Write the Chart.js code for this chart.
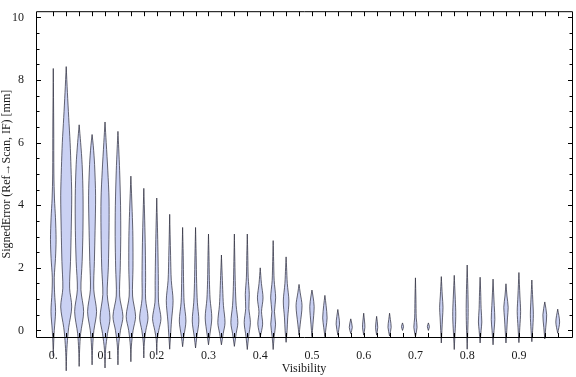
<!DOCTYPE html>
<html><head><meta charset="utf-8">
<script src="https://cdn.jsdelivr.net/npm/chart.js@4.4.0/dist/chart.umd.min.js"></script>
<style>html,body{margin:0;padding:0;background:#fff;}canvas{display:block;}</style>
</head><body>
<canvas id="c" width="576" height="377"></canvas>
<script>
// ---- data ----
const visibility = [0,0.025,0.05,0.075,0.1,0.125,0.15,0.175,0.2,0.225,0.25,0.275,0.3,0.325,0.35,0.375,0.4,0.425,0.45,0.475,0.5,0.525,0.55,0.575,0.6,0.625,0.65,0.675,0.7,0.725,0.75,0.775,0.8,0.825,0.85,0.875,0.9,0.925,0.95,0.975];
const xTickLabels = ["0.","0.1","0.2","0.3","0.4","0.5","0.6","0.7","0.8","0.9"];
const yTickValues = [0,2,4,6,8,10];
const violinLow = [-0.82,-1.29,-1.15,-1.1,-1.2,-1.1,-1.0,-0.88,-0.78,-0.6,-0.52,-0.56,-0.46,-0.46,-0.51,-0.61,-0.21,-0.61,-0.38,-0.15,-0.2,-0.2,-0.15,-0.1,-0.15,-0.15,-0.18,0.0,-0.2,0.0,-0.4,-0.61,-0.6,-0.4,-0.46,-0.4,-0.39,-0.36,-0.27,-0.09];
const violinHigh = [8.37,8.43,6.57,6.26,6.66,6.36,4.93,4.54,4.23,3.71,3.29,3.29,3.08,2.41,3.08,3.08,2.0,2.87,2.35,1.47,1.29,1.12,0.67,0.37,0.55,0.45,0.55,0.24,1.68,0.24,1.72,1.76,2.09,1.7,1.64,1.49,1.85,1.61,0.91,0.68];
// density profile knots: [error value, relative half-width]
const violinDensity = [
 [[-0.4,0.4],[0,1.0],[0.6,2.3],[1.2,1.3],[1.7,1.0],[2.3,2.2],[2.9,2.8],[3.6,2.2],[4.2,1.2],[5.0,0.6],[6.5,0.45]],
 [[-0.7,0.5],[-0.2,1.5],[0.1,2.5],[0.75,5.5],[1.35,3.4],[2.2,4.3],[3.2,5.0],[4.3,5.5],[5.2,4.8],[6.0,3.9],[6.8,2.5],[7.6,1.2]],
 [[-0.6,0.5],[-0.1,1.5],[0.6,4.5],[1.3,1.8],[2.2,3.0],[3.2,3.8],[4.3,3.9],[5.3,3.0],[6.0,1.5]],
 [[-0.5,0.6],[0,1.8],[0.6,4.5],[1.3,1.7],[2.2,2.3],[3.2,3.0],[4.3,3.5],[5.3,2.5],[5.9,1.2]],
 [[-0.6,0.6],[-0.1,2.5],[0.4,5.0],[1.15,2.2],[2.0,3.3],[3.2,4.0],[4.2,4.0],[5.1,2.8],[6.0,1.2]],
 [[-0.5,0.6],[0,2.5],[0.45,5.0],[1.1,1.7],[2.0,2.3],[3.0,2.8],[4.0,2.6],[5.1,1.7],[5.8,0.8]],
 [[-0.5,0.5],[0,2.2],[0.45,4.7],[1.1,1.7],[2.0,2.1],[3.0,2.0],[3.8,1.3]],
 [[-0.4,0.5],[0,2.0],[0.4,4.2],[1.0,1.8],[1.7,1.8],[2.6,1.5],[3.5,0.9]],
 [[-0.3,0.5],[0,2.0],[0.38,4.2],[0.9,1.8],[1.6,1.6],[2.5,1.2],[3.3,0.7]],
 [[-0.2,0.8],[0.3,1.8],[0.95,3.4],[1.6,1.6],[2.4,0.9]],
 [[-0.2,1.2],[0.3,3.3],[0.9,1.5],[1.5,1.0],[2.4,0.6]],
 [[-0.2,1.3],[0.3,3.3],[0.9,1.8],[1.5,1.1],[2.4,0.6]],
 [[-0.15,1.3],[0.4,3.3],[1.0,1.6],[1.6,0.9],[2.4,0.5]],
 [[-0.1,1.8],[0.25,3.6],[0.8,2.0],[1.3,1.3],[1.9,0.6]],
 [[-0.1,1.8],[0.25,3.5],[0.8,1.8],[1.4,1.0],[2.2,0.5]],
 [[-0.2,1.3],[0.25,3.1],[0.7,1.6],[1.15,2.0],[1.7,0.9],[2.4,0.5]],
 [[0.2,2.4],[0.6,1.3],[1.04,2.8],[1.5,1.2]],
 [[-0.2,1.0],[0.2,2.4],[0.6,1.3],[1.04,2.5],[1.6,1.0],[2.2,0.5]],
 [[0,1.0],[0.4,1.6],[0.94,2.8],[1.5,1.2],[2.0,0.5]],
 [[0.2,1.2],[0.79,3.0],[1.2,1.2]],
 [[0.2,1.0],[0.76,2.2],[1.1,1.0]],
 [[0.1,1.2],[0.4,2.2],[0.8,1.2]],
 [[0.2,1.7],[0.45,1.0]],
 [[0.1,1.5]],
 [[0.1,1.2],[0.3,0.8]],
 [[0.1,1.1]],
 [[0.1,1.6],[0.35,0.8]],
 [[0.12,1.0]],
 [[0.1,1.6],[0.4,0.8],[1.0,0.5]],
 [[0.12,1.0]],
 [[0,0.6],[0.4,1.2],[0.74,1.7],[1.1,1.0]],
 [[-0.2,0.6],[0.3,1.4],[0.6,1.5],[1.1,0.9]],
 [[0.2,0.8],[0.7,1.0],[1.3,0.7]],
 [[0,1.0],[0.27,1.7],[0.7,1.0],[1.2,0.6]],
 [[0,1.0],[0.35,1.8],[0.8,1.2],[1.2,0.6]],
 [[0,0.8],[0.4,1.5],[0.74,2.2],[1.1,1.0]],
 [[0.1,0.9],[0.6,1.7],[1.1,1.0]],
 [[0,0.8],[0.5,1.5],[1.0,0.9]],
 [[0.1,1.0],[0.5,1.9]],
 [[0.27,1.9]]
];

// ---- rendering ----
const densityToX = 0.025 / 12.94;
const FILL = '#cad1f3';
const FONT = "'Liberation Serif','Times New Roman',serif";

function violinPoints(i) {
  const v = visibility[i], lo = violinLow[i], hi = violinHigh[i], k = violinDensity[i];
  const pts = [{x: v, y: lo}];
  k.forEach(([y, w]) => pts.push({x: v + w * densityToX, y}));
  pts.push({x: v, y: hi}, {x: v, y: hi});
  for (let j = k.length - 1; j >= 0; j--) pts.push({x: v - k[j][1] * densityToX, y: k[j][0]});
  pts.push({x: v, y: lo}, {x: v, y: lo});
  return pts;
}

const datasets = visibility.map((v, i) => ({
  data: violinPoints(i),
  showLine: true, fill: false, clip: false,
  borderColor: 'rgba(40,40,55,0.7)', borderWidth: 1,
  tension: 0.3, pointRadius: 0, pointHoverRadius: 0
}));

const violinFill = {
  id: 'violinFill',
  beforeDatasetDraw(chart, args) {
    const line = args.meta.dataset;
    if (!line) return;
    const ctx = chart.ctx;
    line.updateControlPoints(chart.chartArea, 'x');
    ctx.save();
    ctx.beginPath();
    line.path(ctx);
    ctx.closePath();
    ctx.fillStyle = FILL;
    ctx.fill();
    ctx.restore();
  }
};

const frame = {
  id: 'frame',
  afterDatasetsDraw(chart) {
    const {ctx, chartArea: a, scales: {x, y}} = chart;
    ctx.save();
    ctx.strokeStyle = '#000';
    ctx.lineWidth = 1;
    const L = a.left + 0.5, R = a.right + 0.5, T = a.top + 0.5, B = a.bottom + 0.5;
    ctx.beginPath();
    ctx.rect(L, T, R - L, B - T);
    visibility.forEach(v => {
      const px = Math.round(x.getPixelForValue(v)) + 0.5;
      ctx.moveTo(px, B); ctx.lineTo(px, B - 4.5);
      ctx.moveTo(px, T); ctx.lineTo(px, T + 4.5);
    });
    for (let val = 0; val <= 10.001; val += 0.5) {
      const py = Math.round(y.getPixelForValue(val)) + 0.5;
      const len = yTickValues.includes(Math.round(val * 10) / 10) ? 4.5 : 3;
      ctx.moveTo(L, py); ctx.lineTo(L + len, py);
      ctx.moveTo(R, py); ctx.lineTo(R - len, py);
    }
    ctx.stroke();
    ctx.restore();
  }
};

Chart.defaults.font.family = FONT;
Chart.defaults.font.size = 12;
Chart.defaults.color = '#1a1a1a';

new Chart(document.getElementById('c'), {
  type: 'scatter',
  data: {datasets},
  options: {
    responsive: false, animation: false, events: [],
    devicePixelRatio: 1,
    layout: {padding: {left: 0, right: 4, top: 4, bottom: 0}},
    elements: {line: {capBezierPoints: false}},
    plugins: {legend: {display: false}, tooltip: {enabled: false}},
    scales: {
      x: {
        type: 'linear', min: -0.0334, max: 1.0026,
        grid: {display: false}, border: {display: false},
        afterBuildTicks: s => { s.ticks = visibility.map(v => ({value: v})); },
        afterFit: s => { s.height = 40; },
        ticks: {autoSkip: false, maxRotation: 0, minRotation: 0, padding: 4,
          callback: (val, idx) => idx % 4 === 0 ? xTickLabels[idx / 4] : ''},
        title: {display: true, text: 'Visibility', padding: {top: 0, bottom: 1}, font: {size: 12}}
      },
      y: {
        type: 'linear', min: -0.21, max: 10.2,
        grid: {display: false}, border: {display: false},
        afterBuildTicks: s => { s.ticks = yTickValues.map(v => ({value: v})); },
        afterFit: s => { s.width = 36; },
        ticks: {padding: 4, callback: v => String(v)},
        title: {display: true, text: 'SignedError (Ref\u2192Scan, IF) [mm]', padding: {top: 0, bottom: 0}, font: {size: 12}}
      }
    }
  },
  plugins: [violinFill, frame]
});
</script>
</body></html>
